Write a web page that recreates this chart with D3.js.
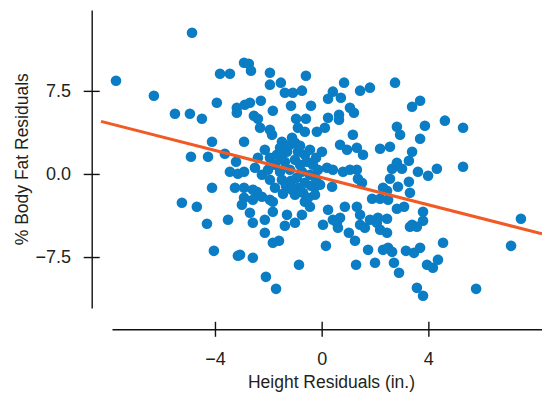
<!DOCTYPE html>
<html>
<head>
<meta charset="utf-8">
<script src="https://cdn.jsdelivr.net/npm/d3@7"></script>
<style>
  html, body { margin: 0; padding: 0; background: #fff; }
  svg { display: block; }
</style>
</head>
<body>
<svg id="chart" width="542" height="393"></svg>
<script>
// Height residuals (in.) and % body fat residuals, one entry per man
const heightResid = [
  -4.86, -7.71, -6.29, -3.81, -3.44, -2.91, -3.93, -5.50, -4.94, -4.49,
  -3.18, -3.18, -2.88, -2.73, -2.65, -1.94, -1.94, -1.53, -0.59, -1.38,
  -1.08, -0.74, 0.84, 1.44, 1.81, 0.42, 0.24, 0.72, -2.28, -2.69,
  -1.83, -1.15, -0.40, -2.54, -2.39, -0.96, -0.59, 0.24, 0.65, 0.65,
  1.06, 1.21, 2.75, 3.39, 3.69, 4.62, 2.82, 2.94, 3.87, 5.30,
  3.69, 2.56, 3.39, 3.27, 2.82, 2.64, 3.01, 3.61, 3.99, 4.32,
  5.30, 2.56, 3.27, 2.86, 3.31, 2.45, 2.49, 2.82, 3.09, 3.80,
  2.45, 3.39, 3.80, 7.47, -4.11, -2.91, -4.90, -4.26, -3.63, -3.21,
  -3.44, -3.14, -4.11, -3.25, -2.91, -5.24, -4.68, -2.91, -2.99, -4.30,
  -3.51, -2.91, -2.31, -1.94, -1.86, -1.49, -1.11, -1.00, -0.89, -0.63,
  -0.18, 0.12, 0.01, -1.94, -1.68, -1.30, -0.89, -0.63, -1.75, -1.38,
  -1.00, -0.55, -0.33, -1.56, -1.19, -0.74, -0.44, -0.93, -0.63, -0.89,
  -0.70, -1.00, -1.94, -2.24, -2.39, 0.20, -2.43, -2.24, -1.94, -0.25,
  1.17, 0.69, 0.95, 1.32, 1.55, 2.19, -2.50, -1.49, 0.42, 0.80,
  1.06, 1.32, 1.36, 1.51, 0.39, -2.58, -2.58, -1.83, -0.63, -0.44,
  -0.25, 0.87, 1.32, 1.89, 2.19, 2.30, -2.69, -2.13, -1.83, -1.30,
  -0.74, -1.00, 0.24, 0.42, 0.69, 1.44, 1.81, 2.11, -2.58, -1.38,
  -2.13, -1.83, -1.60, -3.06, -2.58, -2.09, -1.71, -0.85, 0.05, 0.57,
  0.61, 0.16, 1.02, 1.25, 1.44, 1.62, 2.07, 2.19, 2.45, 1.74,
  2.30, 1.29, 2.00, -4.04, -3.14, 3.31, 3.57, 2.49, 2.64, 3.16,
  3.46, 3.69, 4.55, 2.71, 2.90, 3.95, 4.17, 4.36, 3.57, 3.80,
  5.79, 7.10,
  -1.56, -1.19, -0.81, -0.44, -0.21, -0.14, -2.01, -1.34, -1.15, -0.40,
  -0.21, -0.81, -1.53, -1.11, -0.51, -1.45, -1.75, -2.13, -0.06
];
const bodyFatResid = [
  12.75, 8.42, 7.06, 9.05, 9.05, 10.04, 6.43, 5.44, 5.44, 4.99,
  5.98, 5.53, 6.25, 9.95, 9.32, 9.14, 8.06, 8.24, 8.87, 7.33,
  7.33, 7.52, 8.24, 7.52, 7.79, 7.43, 6.79, 6.88, 6.61, 6.43,
  5.71, 6.16, 6.16, 5.26, 4.99, 4.99, 4.99, 5.08, 5.35, 4.90,
  5.98, 5.53, 8.24, 6.07, 6.61, 4.81, 4.26, 3.54, 4.35, 4.17,
  3.18, 2.46, 2.01, 1.19, 1.01, 0.47, 0.47, 0.20, -0.16, 0.47,
  0.65, -0.43, -0.70, -1.16, -1.70, -1.52, -2.33, -3.14, -2.96, -3.41,
  -4.05, -4.59, -4.23, -4.05, 2.91, 2.91, 1.55, 1.55, 1.82, 1.10,
  0.20, 0.02, -1.25, -1.25, -1.25, -2.60, -2.96, -2.15, -2.78, -4.50,
  -4.14, 0.20, 4.17, 3.99, 3.54, 2.91, 3.27, 2.82, 4.17, 3.81,
  3.81, 4.17, 2.01, 1.46, 1.73, 2.01, 2.01, 1.73, 0.83, 1.10,
  1.28, 1.10, 0.83, 0.20, 0.38, 0.20, -0.07, -0.34, -0.79, -1.25,
  -1.70, -1.88, -0.52, -0.07, 1.46, 0.56, -1.61, -2.06, -2.33, -1.88,
  3.54, 2.64, 2.19, 2.37, 1.73, 2.28, 0.56, -0.52, 0.38, 0.20,
  0.38, 0.38, -0.43, -0.79, -1.16, -1.43, -2.33, -2.51, -2.51, -2.96,
  -1.16, -2.96, -2.96, -2.24, -2.24, -1.25, -3.50, -4.14, -3.41, -3.69,
  -3.69, -4.41, -3.23, -4.14, -3.96, -3.69, -4.14, -3.96, -4.41, -4.68,
  -5.31, -6.21, -6.03, -7.30, -7.57, -9.29, -10.37, -8.20, -4.59, -4.41,
  -4.86, -6.49, -5.31, -6.03, -4.59, -4.86, -4.41, -5.04, -5.31, -6.85,
  -6.85, -8.20, -8.02, -6.94, -7.39, -4.77, -4.77, -6.67, -7.03, -6.94,
  -7.12, -6.67, -6.21, -8.02, -8.92, -8.20, -8.47, -7.75, -10.28, -11.00,
  -10.37, -6.49,
  2.37, 2.64, 2.55, 2.19, 1.46, 0.38, 0.38, -1.07, -0.61, -1.07,
  -0.43, 0.83, 1.46, -1.43, -2.15, -1.79, -1.25, 2.19, -0.98
];

// Least-squares line of % body fat residuals on height residuals
const fitSlope = -0.614;
const fitIntercept = -0.33;

const xTicks = [-4, 0, 4];
const yTicks = [-7.5, 0, 7.5];
const xTitle = "Height Residuals (in.)";
const yTitle = "% Body Fat Residuals";

const points = heightResid.map((h, i) => ({ h, f: bodyFatResid[i] }));

const svg = d3.select("#chart");
const W = 542;

const x = d3.scaleLinear().domain([-7.86, 8.26]).range([112, 542]);
const y = d3.scaleLinear().domain([-12.1, 14.8]).range([308, 10]);

const axisX = 329.3;
const axisY = 91.7;
const textColor = "#231f20";
const font = "'Liberation Sans', Arial, Helvetica, sans-serif";

// x axis: ticks cross the line
const gx = svg.append("g")
  .attr("transform", `translate(0,${axisX})`)
  .call(d3.axisBottom(x).tickValues(xTicks).tickFormat(d3.format("d"))
    .tickSizeInner(7.5).tickSizeOuter(0).tickPadding(15));
gx.selectAll(".tick line").attr("y1", -7.5).attr("y2", 7.5);

// y axis
const gy = svg.append("g")
  .attr("transform", `translate(${axisY},0)`)
  .call(d3.axisLeft(y).tickValues(yTicks).tickFormat(d3.format(".1f"))
    .tickSizeInner(8).tickSizeOuter(0).tickPadding(12.7));
gy.selectAll(".tick line").attr("x1", 8).attr("x2", -8);

[gx, gy].forEach(g => {
  g.attr("font-family", font).attr("font-size", 18);
  g.select(".domain").attr("stroke", "#111").attr("stroke-width", 1.4);
  g.selectAll(".tick line").attr("stroke", "#111").attr("stroke-width", 1.4);
  g.selectAll(".tick text").attr("fill", textColor);
});

// axis titles
svg.append("text")
  .attr("x", 331.5).attr("y", 388)
  .attr("text-anchor", "middle")
  .attr("font-family", font).attr("font-size", 18)
  .attr("textLength", 167).attr("lengthAdjust", "spacingAndGlyphs")
  .attr("fill", textColor)
  .text(xTitle);

svg.append("text")
  .attr("transform", "translate(28,159.2) rotate(-90)")
  .attr("text-anchor", "middle")
  .attr("font-family", font).attr("font-size", 18)
  .attr("textLength", 172).attr("lengthAdjust", "spacingAndGlyphs")
  .attr("fill", textColor)
  .text(yTitle);

// scatter points
svg.append("g")
  .selectAll("circle")
  .data(points)
  .join("circle")
  .attr("cx", d => x(d.h))
  .attr("cy", d => y(d.f))
  .attr("r", 5.3)
  .attr("fill", "#0a7dc4");

// regression line across the plot width
const x0 = x.invert(101), x1 = x.invert(W);
svg.append("line")
  .attr("x1", x(x0)).attr("y1", y(fitIntercept + fitSlope * x0))
  .attr("x2", x(x1)).attr("y2", y(fitIntercept + fitSlope * x1))
  .attr("stroke", "#f15a24")
  .attr("stroke-width", 3);
</script>
</body>
</html>
